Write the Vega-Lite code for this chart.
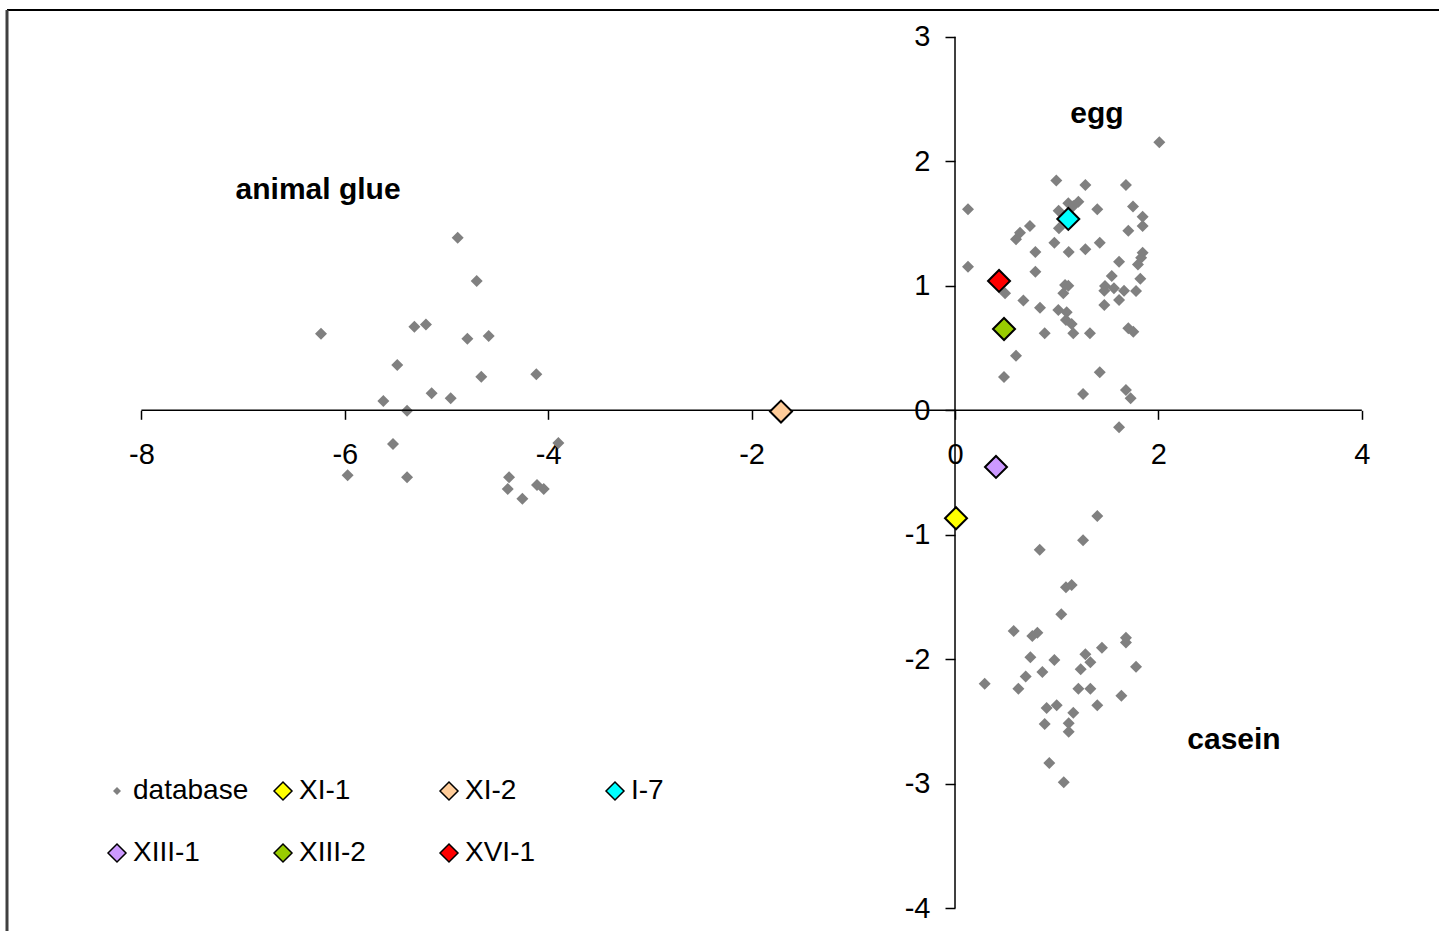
{
 "$schema": "https://vega.github.io/schema/vega-lite/v6.json",
 "width": 1432,
 "height": 921,
 "autosize": {"type": "none"},
 "padding": {"left": 7, "top": 10, "right": 0, "bottom": 0},
 "background": "white",
 "config": {"font": "Liberation Sans", "view": {"stroke": null}},
 "datasets": {
  "pts": [
   {"g":"database","x":2.009,"y":2.153},{"g":"database","x":0.996,"y":1.845},{"g":"database","x":1.282,"y":1.810},{"g":"database","x":1.681,"y":1.810},
   {"g":"database","x":0.128,"y":1.614},{"g":"database","x":1.114,"y":1.663},{"g":"database","x":1.213,"y":1.676},{"g":"database","x":1.163,"y":1.642},
   {"g":"database","x":1.019,"y":1.603},{"g":"database","x":1.399,"y":1.614},{"g":"database","x":1.750,"y":1.636},{"g":"database","x":1.845,"y":1.555},
   {"g":"database","x":1.845,"y":1.480},{"g":"database","x":1.704,"y":1.443},{"g":"database","x":0.737,"y":1.480},{"g":"database","x":0.639,"y":1.427},
   {"g":"database","x":0.600,"y":1.373},{"g":"database","x":1.022,"y":1.462},{"g":"database","x":0.977,"y":1.346},{"g":"database","x":0.790,"y":1.271},
   {"g":"database","x":1.118,"y":1.271},{"g":"database","x":1.282,"y":1.293},{"g":"database","x":1.423,"y":1.346},{"g":"database","x":1.845,"y":1.266},
   {"g":"database","x":1.830,"y":1.225},{"g":"database","x":0.128,"y":1.154},{"g":"database","x":0.790,"y":1.113},{"g":"database","x":1.613,"y":1.194},
   {"g":"database","x":1.799,"y":1.172},{"g":"database","x":1.541,"y":1.079},{"g":"database","x":1.822,"y":1.057},{"g":"database","x":1.082,"y":1.006},
   {"g":"database","x":1.114,"y":1.001},{"g":"database","x":1.065,"y":0.940},{"g":"database","x":0.492,"y":0.940},{"g":"database","x":1.475,"y":0.998},
   {"g":"database","x":1.468,"y":0.961},{"g":"database","x":1.563,"y":0.980},{"g":"database","x":1.662,"y":0.961},{"g":"database","x":1.780,"y":0.958},
   {"g":"database","x":0.672,"y":0.881},{"g":"database","x":1.613,"y":0.886},{"g":"database","x":1.468,"y":0.846},{"g":"database","x":0.836,"y":0.824},
   {"g":"database","x":1.016,"y":0.806},{"g":"database","x":1.098,"y":0.787},{"g":"database","x":1.091,"y":0.725},{"g":"database","x":1.147,"y":0.693},
   {"g":"database","x":1.163,"y":0.618},{"g":"database","x":0.882,"y":0.618},{"g":"database","x":1.327,"y":0.618},{"g":"database","x":1.704,"y":0.659},
   {"g":"database","x":1.753,"y":0.631},{"g":"database","x":0.600,"y":0.439},{"g":"database","x":0.482,"y":0.267},{"g":"database","x":1.423,"y":0.305},
   {"g":"database","x":1.259,"y":0.131},{"g":"database","x":1.681,"y":0.163},{"g":"database","x":1.727,"y":0.096},{"g":"database","x":1.613,"y":-0.137},
   {"g":"database","x":-4.890,"y":1.386},{"g":"database","x":-4.703,"y":1.039},{"g":"database","x":-6.234,"y":0.615},{"g":"database","x":-5.316,"y":0.672},
   {"g":"database","x":-5.202,"y":0.690},{"g":"database","x":-4.795,"y":0.575},{"g":"database","x":-4.585,"y":0.597},{"g":"database","x":-5.484,"y":0.364},
   {"g":"database","x":-4.658,"y":0.270},{"g":"database","x":-4.117,"y":0.289},{"g":"database","x":-5.621,"y":0.075},{"g":"database","x":-5.146,"y":0.137},
   {"g":"database","x":-4.959,"y":0.096},{"g":"database","x":-5.388,"y":-0.003},{"g":"database","x":-5.526,"y":-0.271},{"g":"database","x":-5.972,"y":-0.522},
   {"g":"database","x":-5.388,"y":-0.538},{"g":"database","x":-3.900,"y":-0.263},{"g":"database","x":-4.385,"y":-0.538},{"g":"database","x":-4.398,"y":-0.632},
   {"g":"database","x":-4.254,"y":-0.710},{"g":"database","x":-4.110,"y":-0.600},{"g":"database","x":-4.044,"y":-0.632},
   {"g":"database","x":1.399,"y":-0.849},{"g":"database","x":1.259,"y":-1.044},{"g":"database","x":0.833,"y":-1.120},{"g":"database","x":1.091,"y":-1.422},
   {"g":"database","x":1.147,"y":-1.403},{"g":"database","x":1.045,"y":-1.639},{"g":"database","x":0.577,"y":-1.773},{"g":"database","x":0.760,"y":-1.813},
   {"g":"database","x":0.810,"y":-1.786},{"g":"database","x":1.681,"y":-1.826},{"g":"database","x":1.681,"y":-1.866},{"g":"database","x":1.445,"y":-1.907},
   {"g":"database","x":0.741,"y":-1.984},{"g":"database","x":0.977,"y":-2.006},{"g":"database","x":1.282,"y":-1.960},{"g":"database","x":1.331,"y":-2.024},
   {"g":"database","x":1.780,"y":-2.059},{"g":"database","x":1.236,"y":-2.080},{"g":"database","x":0.695,"y":-2.139},{"g":"database","x":0.859,"y":-2.102},
   {"g":"database","x":0.292,"y":-2.196},{"g":"database","x":0.623,"y":-2.236},{"g":"database","x":1.213,"y":-2.236},{"g":"database","x":1.331,"y":-2.236},
   {"g":"database","x":1.636,"y":-2.292},{"g":"database","x":1.399,"y":-2.370},{"g":"database","x":0.901,"y":-2.391},{"g":"database","x":1.000,"y":-2.370},
   {"g":"database","x":1.163,"y":-2.429},{"g":"database","x":0.882,"y":-2.520},{"g":"database","x":1.118,"y":-2.514},{"g":"database","x":1.118,"y":-2.581},
   {"g":"database","x":0.927,"y":-2.833},{"g":"database","x":1.069,"y":-2.988},
   {"g":"XI-1","x":0.010,"y":-0.867},{"g":"XI-2","x":-1.711,"y":-0.010},{"g":"I-7","x":1.114,"y":1.537},
   {"g":"XIII-1","x":0.403,"y":-0.455},{"g":"XIII-2","x":0.482,"y":0.653},{"g":"XVI-1","x":0.433,"y":1.039}
  ],
  "ann": [
   {"label":"animal glue","x":-6.263,"y":1.769},
   {"label":"egg","x":1.396,"y":2.380},
   {"label":"casein","x":2.743,"y":-2.648}
  ]
 },
 "layer": [
  {
   "data": {"name": "pts"},
   "transform": [{"filter": "datum.g === 'database'"}],
   "mark": {"type": "point", "shape": "diamond", "filled": true, "opacity": 1, "size": 144},
   "encoding": {
    "x": {"field": "x", "type": "quantitative",
     "scale": {"domain": [-9.3215, 4.759], "nice": false, "zero": false},
     "axis": {"orient": "bottom", "values": [-8, -6, -4, -2, 0, 2, 4], "domain": false, "grid": false, "offset": -520.7,
      "tickColor": "#000", "tickSize": 9, "tickWidth": 1.5, "labelFontSize": 29, "labelColor": "#000", "labelPadding": 21,
      "labelFlush": false, "labelOverlap": false, "title": null, "labelExpr": "'' + datum.value"}},
    "y": {"field": "y", "type": "quantitative",
     "scale": {"domain": [-4.1823, 3.2153], "nice": false, "zero": false},
     "axis": {"orient": "left", "values": [-4, -3, -2, -1, 0, 1, 2, 3], "domain": false, "grid": false, "offset": -948,
      "tickColor": "#000", "tickSize": 10, "tickWidth": 1.5, "labelFontSize": 29, "labelColor": "#000", "labelPadding": 15,
      "labelFlush": false, "labelOverlap": false, "title": null, "labelExpr": "'' + datum.value"}},
    "color": {"field": "g", "type": "nominal",
     "scale": {"domain": ["database", "XI-1", "XI-2", "I-7", "XIII-1", "XIII-2", "XVI-1"],
      "range": ["#808080", "#FFFF00", "#FFCC99", "#00FFFF", "#CC99FF", "#99CC00", "#FF0000"]},
     "legend": {"orient": "none", "direction": "horizontal", "legendX": 96, "legendY": 767, "columns": 4, "gridAlign": "all", "title": null,
      "symbolType": "diamond", "symbolSize": 324, "symbolStrokeColor": "black", "symbolStrokeWidth": 1.5, "symbolOpacity": 1,
      "labelFontSize": 28, "labelColor": "#000", "labelOffset": 2, "columnPadding": 20, "rowPadding": 34, "padding": 0,
      "encode": {"symbols": {"update": {
        "size": {"signal": "datum.value === 'database' ? 64 : 324"},
        "stroke": {"signal": "datum.value === 'database' ? 'transparent' : 'black'"},
        "strokeWidth": {"value": 1.5}}}}}}
   }
  },
  {
   "data": {"values": [{}]},
   "mark": {"type": "rule", "color": "#000", "strokeWidth": 1.5},
   "encoding": {"x": {"datum": -8, "type": "quantitative"}, "x2": {"datum": 4}, "y": {"datum": 0, "type": "quantitative"}}
  },
  {
   "data": {"values": [{}]},
   "mark": {"type": "rule", "color": "#000", "strokeWidth": 1.5},
   "encoding": {"y": {"datum": -4, "type": "quantitative"}, "y2": {"datum": 3}, "x": {"datum": 0, "type": "quantitative"}}
  },
  {
   "data": {"values": [{}]},
   "mark": {"type": "rule", "color": "#000", "strokeWidth": 2},
   "encoding": {"y": {"datum": 3.2153, "type": "quantitative"}}
  },
  {
   "data": {"values": [{}]},
   "mark": {"type": "rule", "color": "#404040", "strokeWidth": 3},
   "encoding": {"x": {"datum": -9.3215, "type": "quantitative"}}
  },
  {
   "data": {"name": "pts"},
   "transform": [{"filter": "datum.g !== 'database'"}],
   "mark": {"type": "point", "shape": "diamond", "filled": true, "opacity": 1, "size": 484, "stroke": "#000", "strokeWidth": 2},
   "encoding": {
    "x": {"field": "x", "type": "quantitative"},
    "y": {"field": "y", "type": "quantitative"},
    "color": {"field": "g", "type": "nominal"}
   }
  },
  {
   "data": {"name": "ann"},
   "mark": {"type": "text", "fontSize": 30, "fontWeight": "bold", "color": "#000", "align": "center", "baseline": "middle"},
   "encoding": {
    "x": {"field": "x", "type": "quantitative"},
    "y": {"field": "y", "type": "quantitative"},
    "text": {"field": "label"}
   }
  }
 ]
}
